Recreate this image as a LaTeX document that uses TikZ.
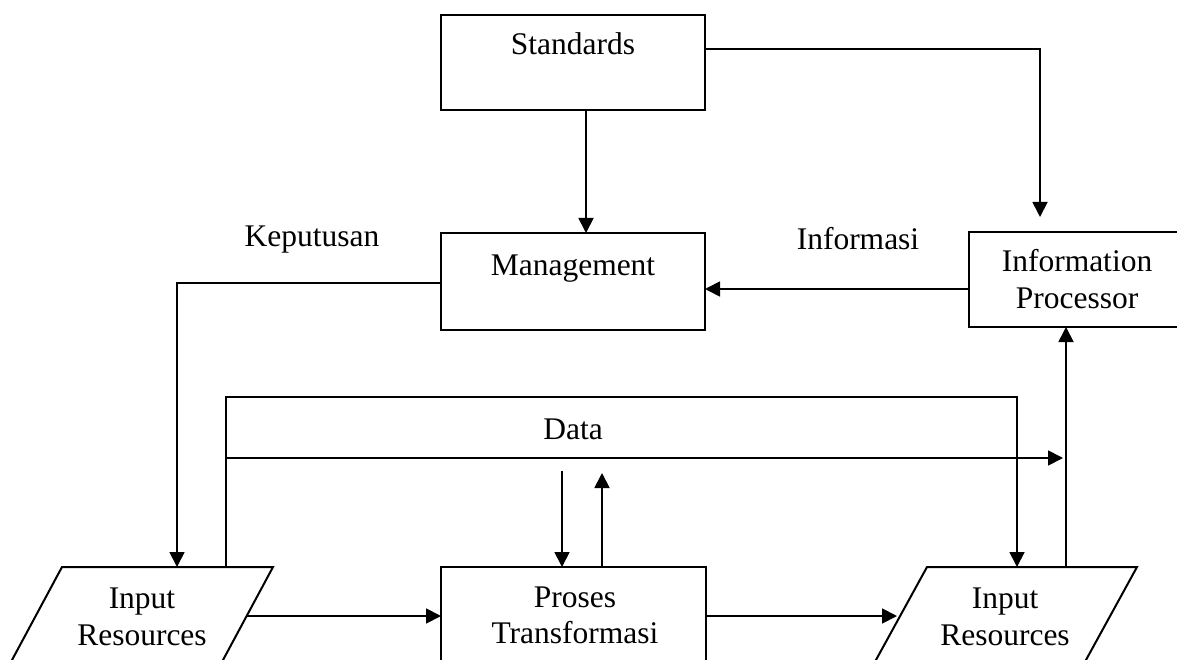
\documentclass[tikz,border=0pt]{standalone}
\usepackage{fontspec}
\setmainfont{Liberation Serif}
\usetikzlibrary{arrows.meta}
\begin{document}
\begin{tikzpicture}[x=1pt,y=-1pt,
  line width=1.8pt,
  arr/.style={-{Triangle[length=15pt,width=15pt]}},
  box/.style={draw, line width=2pt, rectangle, inner sep=0pt, outer sep=0pt},
  lbl/.style={font=\fontsize{31.5}{37}\selectfont, anchor=base, inner sep=0pt}]
\useasboundingbox (0,0) rectangle (1177,660);
\clip (0,0) rectangle (1177,660);

% boxes
\node[box, minimum width=264pt, minimum height=95pt] (std) at (573,62.5) {};
\node[box, minimum width=264pt, minimum height=97pt] (mgmt) at (573,281.5) {};
\node[box, minimum width=216pt, minimum height=95pt] (ip) at (1077,279.5) {};
\node[box, minimum width=265pt, minimum height=153pt] (proses) at (573.5,643.5) {};

% parallelograms
\draw[line width=2pt] (62,567) coordinate (inLtl) -- (273,567) coordinate (inLtr)
  -- (201.5,700) -- (-9.5,700) -- cycle;
\draw[line width=2pt] (927,567) coordinate (inRtl) -- (1137,567) coordinate (inRtr)
  -- (1064,700) -- (854,700) -- cycle;

% ports
\coordinate (kin) at (177,567);
\coordinate (dL) at (226,567);
\coordinate (dR) at (1017,567);
\coordinate (upR) at (1066,567);
\coordinate (outL) at (247,616);
\coordinate (inR) at (897,616);
\coordinate (dstart) at (226,458);
\coordinate (dend) at (1063,458);
\coordinate (pdown) at (562,471);
\coordinate (pup) at (602,473);

% texts
\node[lbl] (tstd) at (573,55) {Standards};
\node[lbl] (tmgmt) at (573,275) {Management};
\node[lbl] (tip1) at (1077,272) {Information};
\node[lbl] (tip2) at (1077,308) {Processor};
\node[lbl] (tkep) at (312,247) {Keputusan};
\node[lbl] (tinf) at (858,250) {Informasi};
\node[lbl] (tdata) at (573,439) {Data};
\node[lbl] (tpr1) at (575,607) {Proses};
\node[lbl] (tpr2) at (575,643) {Transformasi};
\node[lbl] (til1) at (142,608) {Input};
\node[lbl] (til2) at (142,645) {Resources};
\node[lbl] (tir1) at (1005,608) {Input};
\node[lbl] (tir2) at (1005,645) {Resources};

% connectors
\draw[arr] ([xshift=13pt]std.south) -- ([xshift=13pt]mgmt.north);
\draw[arr] ([yshift=13.5pt]std.east) -| ([xshift=-37pt,yshift=15pt]ip.north);
\draw[arr] ([yshift=-9.5pt]ip.west) -- ([yshift=-7.5pt]mgmt.east);
\draw[arr] ([yshift=-1.5pt]mgmt.west) -| (kin);
\draw[arr] (dL) -- ++(0,-170) -| (dR);
\draw[arr] (dstart) -- (dend);
\draw[arr] (upR) -- (upR |- ip.south);
\draw[arr] (pdown) -- (pdown |- proses.north);
\draw[arr] (pup |- proses.north) -- (pup);
\draw[arr] (outL) -- (outL -| proses.west);
\draw[arr] (inR -| proses.east) -- (inR);
\end{tikzpicture}
\end{document}
